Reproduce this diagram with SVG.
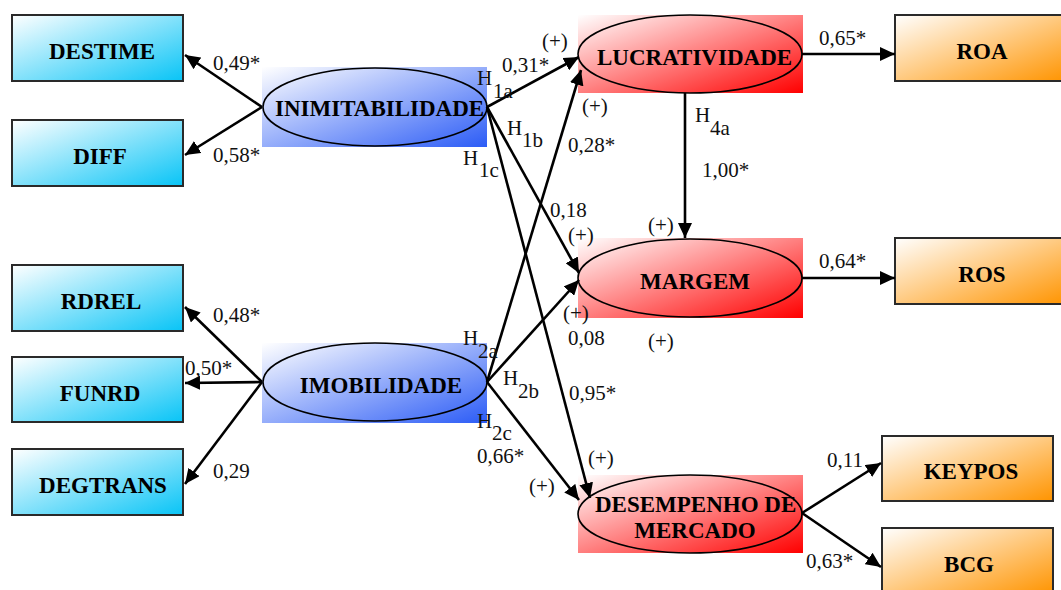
<svg xmlns="http://www.w3.org/2000/svg" width="1061" height="590" viewBox="0 0 1061 590">
  <defs>
    <linearGradient id="gBlueBox" x1="0" y1="0" x2="1" y2="1">
      <stop offset="0" stop-color="#ffffff"/>
      <stop offset="1" stop-color="#08c4f6"/>
    </linearGradient>
    <linearGradient id="gLatent" x1="0" y1="0" x2="1" y2="1">
      <stop offset="0" stop-color="#ffffff"/>
      <stop offset="1" stop-color="#2c5cf6"/>
    </linearGradient>
    <linearGradient id="gRed" x1="0" y1="0" x2="1" y2="1">
      <stop offset="0" stop-color="#ffffff"/>
      <stop offset="1" stop-color="#ff0000"/>
    </linearGradient>
    <linearGradient id="gOrange" x1="0" y1="0" x2="1" y2="1">
      <stop offset="0" stop-color="#ffffff"/>
      <stop offset="1" stop-color="#ff9400"/>
    </linearGradient>
    <marker id="arrow" markerUnits="userSpaceOnUse" markerWidth="15" markerHeight="14" refX="15" refY="7" orient="auto">
      <path d="M0,0 L15,7 L0,14 z" fill="#000"/>
    </marker>
    <style>
      text { font-family: "Times New Roman", Times, "Liberation Serif", serif; }
      .box { stroke: #2a2a2a; stroke-width: 2; }
      .oval { fill: none; stroke: #000; stroke-width: 1.6; }
      .name { font-weight: bold; font-size: 23px; fill: #000; }
      .lbl { font-size: 21px; fill: #111; }
      .conn line { stroke: #000; stroke-width: 2.6; marker-end: url(#arrow); }
    </style>
  </defs>

  <rect width="1061" height="590" fill="#fff"/>

  <!-- indicator boxes, left -->
  <g id="destime">
    <rect class="box" x="12" y="15" width="171" height="66" fill="url(#gBlueBox)"/>
    <text class="name" x="102" y="59" text-anchor="middle">DESTIME</text>
  </g>
  <g id="diff">
    <rect class="box" x="12" y="120" width="171" height="66" fill="url(#gBlueBox)"/>
    <text class="name" x="100" y="164" text-anchor="middle">DIFF</text>
  </g>
  <g id="rdrel">
    <rect class="box" x="12" y="265" width="171" height="66" fill="url(#gBlueBox)"/>
    <text class="name" x="101" y="309" text-anchor="middle">RDREL</text>
  </g>
  <g id="funrd">
    <rect class="box" x="12" y="357" width="171" height="65" fill="url(#gBlueBox)"/>
    <text class="name" x="100" y="401" text-anchor="middle">FUNRD</text>
  </g>
  <g id="degtrans">
    <rect class="box" x="12" y="449" width="171" height="66" fill="url(#gBlueBox)"/>
    <text class="name" x="103" y="493" text-anchor="middle">DEGTRANS</text>
  </g>

  <!-- latent constructs -->
  <g id="inimitabilidade">
    <rect x="262" y="67" width="225" height="80" fill="url(#gLatent)"/>
    <ellipse class="oval" cx="375" cy="107" rx="112" ry="39"/>
    <text class="name" x="275" y="116">INIMITABILIDADE</text>
  </g>
  <g id="imobilidade">
    <rect x="262" y="343" width="225" height="80" fill="url(#gLatent)"/>
    <ellipse class="oval" cx="375" cy="382" rx="112" ry="39"/>
    <text class="name" x="381" y="393" text-anchor="middle">IMOBILIDADE</text>
  </g>
  <g id="lucratividade">
    <rect x="578" y="15" width="225" height="78" fill="url(#gRed)"/>
    <ellipse class="oval" cx="690" cy="54" rx="112" ry="39"/>
    <text class="name" x="597" y="65">LUCRATIVIDADE</text>
  </g>
  <g id="margem">
    <rect x="578" y="238" width="225" height="80" fill="url(#gRed)"/>
    <ellipse class="oval" cx="690" cy="278" rx="112" ry="39"/>
    <text class="name" x="695" y="289" text-anchor="middle">MARGEM</text>
  </g>
  <g id="desempenho">
    <rect x="578" y="475" width="225" height="78" fill="url(#gRed)"/>
    <ellipse class="oval" cx="690" cy="514" rx="112" ry="39"/>
    <text class="name" x="595" y="512">DESEMPENHO DE</text>
    <text class="name" x="695" y="538" text-anchor="middle">MERCADO</text>
  </g>

  <!-- indicator boxes, right -->
  <g id="roa">
    <rect class="box" x="895" y="15" width="171" height="66" fill="url(#gOrange)"/>
    <text class="name" x="982" y="59" text-anchor="middle">ROA</text>
  </g>
  <g id="ros">
    <rect class="box" x="895" y="238" width="171" height="66" fill="url(#gOrange)"/>
    <text class="name" x="982" y="282" text-anchor="middle">ROS</text>
  </g>
  <g id="keypos">
    <rect class="box" x="882" y="436" width="171" height="65" fill="url(#gOrange)"/>
    <text class="name" x="971" y="479" text-anchor="middle">KEYPOS</text>
  </g>
  <g id="bcg">
    <rect class="box" x="882" y="528" width="171" height="66" fill="url(#gOrange)"/>
    <text class="name" x="969" y="572" text-anchor="middle">BCG</text>
  </g>

  <!-- paths and loadings -->
  <g id="connectors" class="conn">
    <line x1="262" y1="107" x2="185" y2="55"/>
    <line x1="262" y1="107" x2="185" y2="155"/>
    <line x1="262" y1="382" x2="185" y2="307"/>
    <line x1="262" y1="382" x2="185" y2="383"/>
    <line x1="262" y1="382" x2="185" y2="484"/>
    <line x1="487" y1="107" x2="579" y2="57"/>
    <line x1="487" y1="382" x2="581" y2="70"/>
    <line x1="487" y1="107" x2="579" y2="273"/>
    <line x1="487" y1="382" x2="579" y2="280"/>
    <line x1="487" y1="107" x2="590" y2="498"/>
    <line x1="487" y1="382" x2="579" y2="500"/>
    <line x1="685" y1="93" x2="685" y2="238"/>
    <line x1="802" y1="54" x2="895" y2="54"/>
    <line x1="802" y1="278" x2="895" y2="278"/>
    <line x1="802" y1="513" x2="881" y2="463"/>
    <line x1="802" y1="513" x2="881" y2="567"/>
  </g>

  <!-- coefficients, hypotheses and signs -->
  <g id="labels" class="lbl">
    <text x="213" y="70">0,49*</text>
    <text x="213" y="162">0,58*</text>
    <text x="213" y="322">0,48*</text>
    <text x="185" y="375">0,50*</text>
    <text x="213" y="478">0,29</text>

    <text x="542" y="48">(+)</text>
    <text x="502" y="72">0,31*</text>
    <text x="477" y="85">H</text><text x="493" y="98">1a</text>
    <text x="582" y="113">(+)</text>
    <text x="507" y="135">H</text><text x="522" y="147">1b</text>
    <text x="568" y="152">0,28*</text>
    <text x="463" y="165">H</text><text x="479" y="177">1c</text>
    <text x="695" y="122">H</text><text x="710" y="135">4a</text>
    <text x="702" y="177">1,00*</text>
    <text x="550" y="217">0,18</text>
    <text x="648" y="232">(+)</text>
    <text x="568" y="242">(+)</text>
    <text x="563" y="320">(+)</text>
    <text x="568" y="345">0,08</text>
    <text x="648" y="348">(+)</text>
    <text x="463" y="345">H</text><text x="478" y="358">2a</text>
    <text x="503" y="385">H</text><text x="518" y="398">2b</text>
    <text x="569" y="400">0,95*</text>
    <text x="477" y="428">H</text><text x="492" y="440">2c</text>
    <text x="477" y="463">0,66*</text>
    <text x="588" y="465">(+)</text>
    <text x="529" y="493">(+)</text>

    <text x="819" y="45">0,65*</text>
    <text x="819" y="268">0,64*</text>
    <text x="827" y="467">0,11</text>
    <text x="806" y="568">0,63*</text>
  </g>
</svg>
